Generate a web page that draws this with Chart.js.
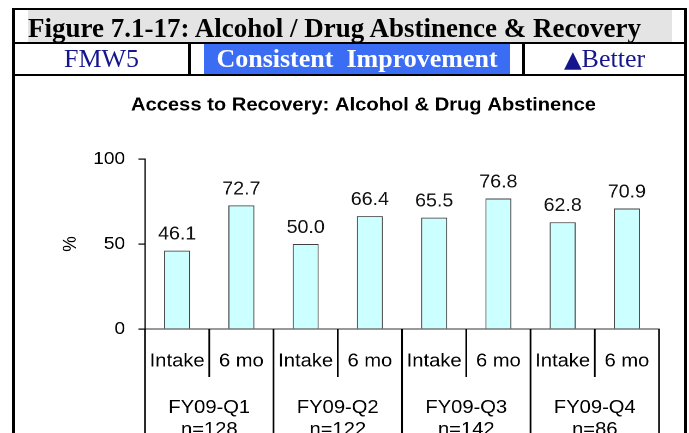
<!DOCTYPE html>
<html>
<head>
<meta charset="utf-8">
<title>Alcohol / Drug Abstinence & Recovery</title>
<script src="https://cdn.jsdelivr.net/npm/chart.js@4.4.1/dist/chart.umd.min.js"></script>
<style>
  html, body { margin: 0; padding: 0; background: #fff; }
  body { width: 689px; height: 433px; overflow: hidden; position: relative; }
  .rule { position: absolute; background: #000; z-index: 3; }
  .cell { position: absolute; z-index: 2; font-family: "Liberation Serif", "Times New Roman", serif;
          font-size: 26px; text-align: center; white-space: pre; }
  .tri { font-family: "DejaVu Sans", sans-serif; font-size: 23px; }
  #chartBox { position: absolute; left: 0; top: 0; width: 632px; height: 433px;
              transform: scaleX(1.0902); transform-origin: 0 0; z-index: 1; }
</style>
</head>
<body>
  <!-- frame and header table -->
  <div class="rule" style="left:12px;top:8px;width:675px;height:2px"></div>
  <div class="rule" style="left:12px;top:8px;width:3px;height:425px"></div>
  <div class="rule" style="left:684px;top:8px;width:3px;height:425px"></div>
  <div class="cell" style="left:28px;top:10px;width:644px;height:32px;background:#e4e4e4"></div>
  <div class="cell" style="left:28px;top:12px;line-height:32px;font-size:27px;font-weight:bold;color:#000;text-align:left">Figure 7.1-17: Alcohol / Drug Abstinence &amp; Recovery</div>
  <div class="rule" style="left:15px;top:42px;width:669px;height:2px"></div>
  <div class="cell" style="left:15px;top:44px;width:173px;height:30px;line-height:30px;color:#16168c">FMW5</div>
  <div class="rule" style="left:188px;top:44px;width:3px;height:30px"></div>
  <div class="cell" style="left:204px;top:44px;width:306px;height:30px;line-height:30px;background:#3b6df4;color:#fff;font-weight:bold">Consistent  Improvement</div>
  <div class="rule" style="left:522px;top:44px;width:3px;height:30px"></div>
  <div class="cell" style="left:525px;top:44px;width:159px;height:30px;line-height:30px;color:#16168c"><span class="tri">▲</span>Better</div>
  <div class="rule" style="left:15px;top:74px;width:669px;height:2px"></div>

  <div id="chartBox"><canvas id="chart" width="632" height="433"></canvas></div>

<script>
// Abstinence rate (%) at intake and at 6-month follow-up, by quarter
const phases = ['Intake', '6 mo'];
const quarters = ['FY09-Q1', 'FY09-Q2', 'FY09-Q3', 'FY09-Q4'];
const sampleSizes = ['n=128', 'n=122', 'n=142', 'n=86'];
const abstinencePct = [46.1, 72.7, 50.0, 66.4, 65.5, 76.8, 62.8, 70.9];
const yTicks = [0, 50, 100];

const categories = quarters.flatMap(q => phases.map(p => q + ' ' + p));
const SANS = '"Liberation Sans", Arial, Helvetica, sans-serif';

// Two-level category axis: phase labels, quarter labels and separator lines
const groupedAxis = {
  id: 'groupedAxis',
  afterDraw(chart) {
    const { ctx, scales: { x, y } } = chart;
    const step = x.getPixelForValue(1) - x.getPixelForValue(0);
    const start = x.getPixelForValue(0) - step / 2;
    const base = y.getPixelForValue(0);
    ctx.save();
    ctx.strokeStyle = '#000';
    ctx.lineWidth = 1.6;
    for (let i = 0; i <= categories.length; i++) {
      const bx = start + i * step;
      ctx.beginPath();
      ctx.moveTo(bx, base);
      ctx.lineTo(bx, i % phases.length === 0 ? chart.height : base + 48);
      ctx.stroke();
    }
    ctx.fillStyle = '#000';
    ctx.textAlign = 'center';
    ctx.textBaseline = 'alphabetic';
    ctx.font = '18.5px ' + SANS;
    categories.forEach((c, i) => {
      ctx.fillText(phases[i % phases.length], x.getPixelForValue(i), base + 37.5);
    });
    quarters.forEach((q, k) => {
      const cx = (x.getPixelForValue(2 * k) + x.getPixelForValue(2 * k + 1)) / 2;
      ctx.fillText(q, cx, base + 84);
      ctx.fillText(sampleSizes[k], cx, base + 106);
    });
    ctx.restore();
  }
};

// Value labels above each bar
const barValues = {
  id: 'barValues',
  afterDatasetsDraw(chart) {
    const { ctx } = chart;
    const meta = chart.getDatasetMeta(0);
    ctx.save();
    ctx.fillStyle = '#111';
    ctx.textAlign = 'center';
    ctx.textBaseline = 'alphabetic';
    ctx.font = '18px ' + SANS;
    meta.data.forEach((bar, i) => {
      ctx.fillText(abstinencePct[i].toFixed(1), bar.x, bar.y - 11);
    });
    ctx.restore();
  }
};

new Chart(document.getElementById('chart'), {
  type: 'bar',
  data: {
    labels: categories,
    datasets: [{
      data: abstinencePct,
      backgroundColor: '#ccffff',
      borderColor: '#404040',
      borderWidth: 1,
      categoryPercentage: 1,
      barPercentage: 0.405
    }]
  },
  options: {
    responsive: false,
    animation: false,
    devicePixelRatio: 2,
    layout: { padding: { left: 62.3, right: 27.5, top: 0, bottom: 0 } },
    plugins: {
      legend: { display: false },
      tooltip: { enabled: false },
      title: {
        display: true,
        text: 'Access to Recovery: Alcohol & Drug Abstinence',
        color: '#000',
        font: { family: SANS, size: 18.5, weight: 'bold' },
        padding: { top: 94.1, bottom: 42.7 }
      }
    },
    scales: {
      x: {
        offset: true,
        afterFit: s => { s.height = 104; },
        grid: { display: false },
        border: { display: true, color: '#333', width: 1 },
        ticks: { display: false }
      },
      y: {
        min: 0,
        max: 100,
        afterBuildTicks: s => { s.ticks = yTicks.map(v => ({ value: v })); },
        afterFit: s => { s.width = 70.7; },
        grid: { drawOnChartArea: false, drawTicks: true, tickLength: 6, color: '#000', lineWidth: 1.2 },
        border: { display: true, color: '#000', width: 1.2 },
        ticks: { color: '#000', font: { family: SANS, size: 17.5 }, padding: 12.3 },
        title: {
          display: true,
          text: '%',
          color: '#000',
          font: { family: SANS, size: 17.5 },
          padding: { top: -8.1, bottom: 0 }
        }
      }
    }
  },
  plugins: [groupedAxis, barValues]
});
</script>
</body>
</html>
